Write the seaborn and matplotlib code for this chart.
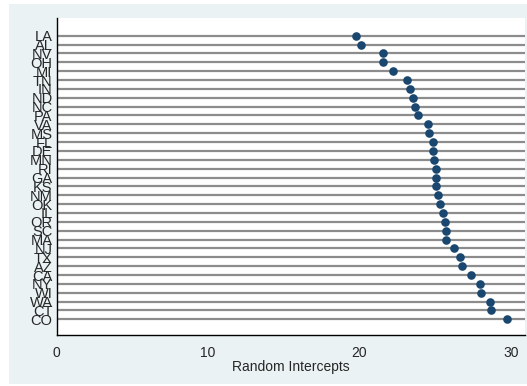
import matplotlib
matplotlib.use("Agg")
import matplotlib.pyplot as plt
import seaborn as sns
import pandas as pd
from matplotlib.patches import Rectangle

states = ["LA", "AL", "NV", "OH", "MI", "TN", "IN", "ND", "NC", "PA", "VA",
          "MS", "FL", "DE", "MN", "RI", "GA", "KS", "NM", "OK", "IL", "OR",
          "SC", "MA", "NJ", "TX", "AZ", "CA", "NY", "WI", "WA", "CT", "CO"]
intercepts = [19.75, 20.1, 21.55, 21.57, 22.21, 23.14, 23.36, 23.53, 23.66,
              23.84, 24.52, 24.59, 24.85, 24.87, 24.92, 25.03, 25.03, 25.03,
              25.19, 25.3, 25.54, 25.63, 25.71, 25.73, 26.24, 26.64, 26.79,
              27.38, 27.96, 28.05, 28.62, 28.71, 29.74]
xticks = [0, 10, 20, 30]

df = pd.DataFrame({"state": states, "value": intercepts})

sns.set_style("white")
plt.rcParams["font.family"] = ["Liberation Sans", "DejaVu Sans"]

W, H = 527, 386
fig = plt.figure(figsize=(W / 100, H / 100), dpi=100)
fig.patch.set_facecolor("white")
fig.patches.append(Rectangle((9 / W, 2 / H), 1 - 9 / W, 1 - 6 / H,
                             transform=fig.transFigure, facecolor="#eaf2f3",
                             edgecolor="none", zorder=-10))

ax = fig.add_axes([56.7 / W, 1 - 335.3 / H, (525 - 56.7) / W, (335.3 - 18) / H])
ax.set_facecolor("white")

sns.stripplot(data=df, x="value", y="state", jitter=False, orient="h",
              color="#1a476f", size=6.2, linewidth=0, ax=ax, zorder=3)

ax.set_xlim(0, (525 - 56.7) / 15.14)
ax.set_ylim(33.8, -2.0)
ax.set_xticks(xticks)
ax.set_xticklabels([str(t) for t in xticks], fontsize=10)
ax.set_yticks(range(len(states)))
ax.set_yticklabels(states, fontsize=10.5)
ax.tick_params(axis="y", length=0, pad=3)
ax.tick_params(axis="x", length=5, width=1, color="black", pad=3, direction="out")
for y in range(len(states)):
    ax.axhline(y, color="#8c8c8c", linewidth=1.6, zorder=1)
ax.set_xlabel("Random Intercepts", fontsize=10, labelpad=0)
ax.set_ylabel("")
for s in ["top", "right"]:
    ax.spines[s].set_visible(False)
for s in ["left", "bottom"]:
    ax.spines[s].set_color("black")
    ax.spines[s].set_linewidth(1.0)

fig.savefig("out.png", dpi=100, facecolor="white")
